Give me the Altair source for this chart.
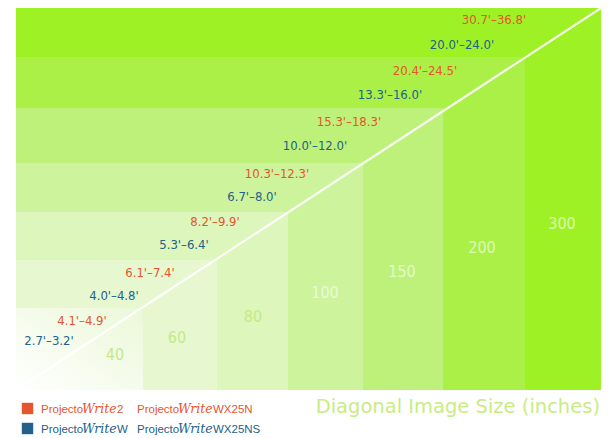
import altair as alt
import pandas as pd

# ---- data ----
sizes = [300, 200, 150, 100, 80, 60, 40]
box_right = [585, 509, 427, 347, 272, 201, 127]
box_top = [382, 333, 282, 227, 178, 130, 82]
box_colors = ["#9ef125", "#aaf047", "#bdf17a", "#cdf39c", "#dcf6bb", "#e7f8d1", "#f2fbe6"]

size_label_x = [546, 466, 386, 309, 237, 161, 99]
size_label_y = [166, 142, 118, 97, 73, 52, 35]

red_labels = ["4.1'–4.9'", "6.1'–7.4'", "8.2'–9.9'", "10.3'–12.3'", "15.3'–18.3'", "20.4'–24.5'", "30.7'–36.8'"]
red_x = [66, 134, 199, 261, 333, 409, 478]
red_y = [69, 117, 168, 216, 268, 319, 370]
blue_labels = ["2.7'–3.2'", "4.0'–4.8'", "5.3'–6.4'", "6.7'–8.0'", "10.0'–12.0'", "13.3'–16.0'", "20.0'–24.0'"]
blue_x = [33, 98, 168, 236, 299, 374, 446]
blue_y = [49, 94, 145, 193, 244, 295, 345]

diag_x = [0, 585]
diag_y = [0, 382]

series = ["red", "blue"]
series_colors = ["#e5552e", "#22628a"]
legend_models = [["2", "WX25N"], ["W", "WX25NS"]]
title_text = "Diagonal Image Size (inches)"

# ---- layout constants ----
W, H = 585, 382
xs = alt.Scale(domain=[0, W], nice=False, zero=False)
ys = alt.Scale(domain=[0, H], nice=False, zero=False)
sscale = alt.Scale(domain=series, range=series_colors)

boxes = pd.DataFrame({"size": sizes, "left": 0, "bottom": 0, "right": box_right, "top": box_top,
                      "lx": size_label_x, "ly": size_label_y})

rects = alt.Chart(boxes).mark_rect().encode(
    x=alt.X("left:Q", scale=xs, axis=None), x2="right:Q",
    y=alt.Y("bottom:Q", scale=ys, axis=None), y2="top:Q",
    fill=alt.Fill("size:N", scale=alt.Scale(domain=sizes, range=box_colors), legend=None),
)

grad = alt.Chart(boxes).transform_filter("datum.size == 40").mark_rect(
    fill=alt.Gradient(gradient="linear",
                      stops=[alt.GradientStop(color="#ffffff", offset=0),
                             alt.GradientStop(color="#ebf8d8", offset=1)],
                      x1=0, y1=1, x2=1, y2=0)
).encode(x=alt.X("left:Q", scale=xs, axis=None), x2="right:Q",
         y=alt.Y("bottom:Q", scale=ys, axis=None), y2="top:Q")

size_text = alt.Chart(boxes).mark_text(font="DejaVu Sans Condensed", fontSize=16,
                                       align="center", baseline="middle").encode(
    x=alt.X("lx:Q", scale=xs, axis=None), y=alt.Y("ly:Q", scale=ys, axis=None),
    text="size:N",
    color=alt.condition("datum.size >= 100", alt.value("#ffffff"), alt.value("#c3ea85")),
    opacity=alt.condition("datum.size >= 100", alt.value(0.6), alt.value(1.0)),
)

diag = alt.Chart(pd.DataFrame({"x": diag_x, "y": diag_y})).mark_line(
    color="white", strokeWidth=2.2, opacity=0.9).encode(
    x=alt.X("x:Q", scale=xs, axis=None), y=alt.Y("y:Q", scale=ys, axis=None))

labels_df = pd.DataFrame({
    "text": red_labels + blue_labels,
    "x": red_x + blue_x,
    "y": red_y + blue_y,
    "series": ["red"] * len(red_labels) + ["blue"] * len(blue_labels),
})
range_text = alt.Chart(labels_df).mark_text(font="DejaVu Sans Condensed", fontSize=13,
                                            align="center", baseline="middle").encode(
    x=alt.X("x:Q", scale=xs, axis=None), y=alt.Y("y:Q", scale=ys, axis=None),
    text="text:N", color=alt.Color("series:N", scale=sscale, legend=None))

# ---- legend (below the plot) ----
row_y = [-23, -43]
col_x = [25, 121]
plain_rows, brand_rows, sq_rows = [], [], []
for r, s in enumerate(series):
    sq_rows.append({"x": 11.5, "y": row_y[r] + 4.5, "series": s})
    for c, model in enumerate(legend_models[r]):
        plain_rows.append({"x": col_x[c], "y": row_y[r], "text": "Projecto", "series": s})
        brand_rows.append({"x": col_x[c] + 41, "y": row_y[r], "text": "Write", "series": s})
        plain_rows.append({"x": col_x[c] + 76, "y": row_y[r], "text": model, "series": s})

leg_sq = alt.Chart(pd.DataFrame(sq_rows)).mark_square(size=130, opacity=1).encode(
    x=alt.X("x:Q", scale=xs, axis=None), y=alt.Y("y:Q", scale=ys, axis=None),
    color=alt.Color("series:N", scale=sscale, legend=None))
leg_plain = alt.Chart(pd.DataFrame(plain_rows)).mark_text(
    font="Liberation Sans", fontSize=11.5, align="left", baseline="alphabetic").encode(
    x=alt.X("x:Q", scale=xs, axis=None), y=alt.Y("y:Q", scale=ys, axis=None),
    text="text:N", color=alt.Color("series:N", scale=sscale, legend=None))
leg_brand = alt.Chart(pd.DataFrame(brand_rows)).mark_text(
    font="DejaVu Serif", fontStyle="italic", fontSize=12.5, align="left", baseline="alphabetic").encode(
    x=alt.X("x:Q", scale=xs, axis=None), y=alt.Y("y:Q", scale=ys, axis=None),
    text="text:N", color=alt.Color("series:N", scale=sscale, legend=None))

title = alt.Chart(pd.DataFrame({"x": [584], "y": [-23], "text": [title_text]})).mark_text(
    font="DejaVu Sans", fontSize=19.5, align="right", baseline="alphabetic", color="#c8ec84").encode(
    x=alt.X("x:Q", scale=xs, axis=None), y=alt.Y("y:Q", scale=ys, axis=None), text="text:N")

chart = alt.layer(rects, grad, size_text, diag, range_text, leg_sq, leg_plain, leg_brand, title).resolve_scale(
    color="independent", fill="independent", opacity="independent"
).properties(
    width=W, height=H,
    padding={"left": 8, "top": 0, "right": 2, "bottom": 48},
    autosize=alt.AutoSizeParams(type="none"),
    background="white",
).configure_view(stroke=None)

chart.save("out.html", embed_options={"renderer": "svg", "actions": False})
